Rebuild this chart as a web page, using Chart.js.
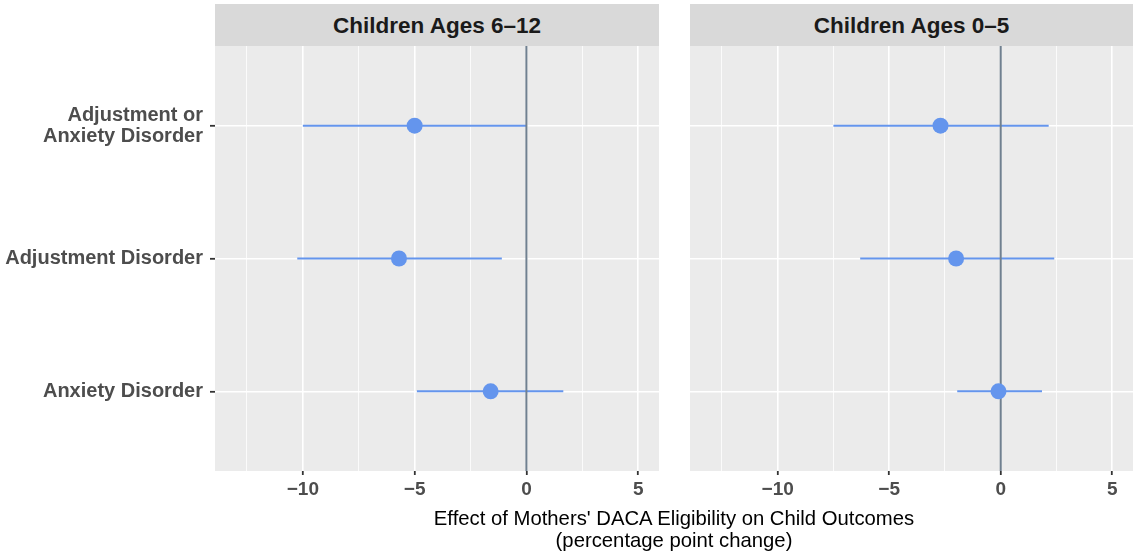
<!DOCTYPE html>
<html lang="en">
<head>
    <meta charset="UTF-8">
    <title>DACA eligibility and child outcomes</title>
    <script src="https://cdn.jsdelivr.net/npm/chart.js"></script>
    <style>
        body {
            margin: 0;
            background: #ffffff;
            font-family: "Liberation Sans", Arial, sans-serif;
        }
        .wrap {
            position: relative;
            width: 1133px;
            height: 551px;
        }
        canvas {
            position: absolute;
            top: 0;
        }
        .strip {
            position: absolute;
            top: 4px;
            height: 42px;
            line-height: 44px;
            background: #d9d9d9;
            color: #1a1a1a;
            font-weight: bold;
            font-size: 22.5px;
            text-align: center;
        }
        .x-title {
            position: absolute;
            left: 324px;
            width: 700px;
            top: 507px;
            text-align: center;
            font-size: 20.3px;
            line-height: 22px;
            color: #000;
        }
    </style>
</head>
<body>
<div class="wrap">
    <canvas id="olderChart" width="659" height="551" style="left:0"></canvas>
    <canvas id="youngerChart" width="443" height="551" style="left:690px"></canvas>
    <div class="strip" id="stripOlder" style="left:215px; width:444px;"></div>
    <div class="strip" id="stripYounger" style="left:690px; width:443px;"></div>
    <div class="x-title">Effect of Mothers' DACA Eligibility on Child Outcomes<br>(percentage point change)</div>
</div>
<script>
    // outcomes, top to bottom
    const outcomes = [['Adjustment or', 'Anxiety Disorder'], 'Adjustment Disorder', 'Anxiety Disorder'];
    const panelTitles = ['Children Ages 6–12', 'Children Ages 0–5'];

    // children 6-12
    const olderEst = [-5.0, -5.7, -1.6];
    const olderLow = [-10.0, -10.25, -4.9];
    const olderHigh = [0.0, -1.1, 1.65];

    // children 0-5
    const youngerEst = [-2.7, -2.0, -0.1];
    const youngerLow = [-7.5, -6.3, -1.95];
    const youngerHigh = [2.15, 2.4, 1.85];

    const xMajor = [-10, -5, 0, 5];
    const xMinor = [-12.5, -7.5, -2.5, 2.5];

    document.getElementById('stripOlder').textContent = panelTitles[0];
    document.getElementById('stripYounger').textContent = panelTitles[1];

    const blue = '#6495ed';
    const isMinor = v => xMinor.includes(v);

    const panelBg = {
        id: 'panelBg',
        beforeDraw(chart) {
            const a = chart.chartArea;
            const ctx = chart.ctx;
            ctx.save();
            ctx.fillStyle = '#ebebeb';
            ctx.fillRect(a.left, a.top, a.right - a.left, a.bottom - a.top);
            ctx.restore();
        }
    };

    const makePanel = (id, est, low, high, showLabels) => {
        const rows = outcomes.map((_, i) => i + 1);
        const datasets = [];

        // estimates
        datasets.push({
            data: est.map((v, i) => ({ x: v, y: rows[i] })),
            showLine: false,
            pointRadius: 8,
            pointBackgroundColor: blue,
            pointBorderWidth: 0,
            order: 0
        });
        // zero reference line
        datasets.push({
            data: [{ x: 0, y: 0.4 }, { x: 0, y: 3.6 }],
            showLine: true,
            borderColor: '#708090',
            borderWidth: 2,
            pointRadius: 0,
            order: 1
        });
        // confidence intervals
        rows.forEach((r, i) => {
            datasets.push({
                data: [{ x: low[i], y: r }, { x: high[i], y: r }],
                showLine: true,
                borderColor: blue,
                borderWidth: 2,
                pointRadius: 0,
                order: 2
            });
        });

        new Chart(document.getElementById(id), {
            type: 'scatter',
            data: { datasets },
            options: {
                responsive: false,
                animation: false,
                events: [],
                layout: { autoPadding: false, padding: { top: 46, left: 0, right: 0, bottom: 0 } },
                plugins: { legend: { display: false }, tooltip: { enabled: false } },
                scales: {
                    x: {
                        type: 'linear',
                        min: -13.93,
                        max: 5.93,
                        afterBuildTicks: s => {
                            s.ticks = [...xMinor, ...xMajor].sort((a, b) => a - b).map(v => ({ value: v }));
                        },
                        afterFit: s => {
                            s.height = 80;
                            s.paddingLeft = 0;
                            s.paddingRight = 0;
                        },
                        border: { display: false },
                        grid: {
                            color: '#ffffff',
                            lineWidth: c => (c.tick && isMinor(c.tick.value)) ? 0.8 : 1.6,
                            drawTicks: true,
                            tickLength: 4,
                            tickWidth: 1.8,
                            tickColor: c => (c.tick && isMinor(c.tick.value)) ? 'rgba(0,0,0,0)' : '#333333'
                        },
                        ticks: {
                            autoSkip: false,
                            maxRotation: 0,
                            padding: 3,
                            color: '#4d4d4d',
                            font: { family: '"Liberation Sans", Arial, sans-serif', size: 19, weight: 'bold' },
                            callback: v => isMinor(v) ? '' : (v < 0 ? '\u2212' + Math.abs(v) : String(v))
                        }
                    },
                    y: {
                        type: 'linear',
                        min: 0.4,
                        max: 3.6,
                        reverse: true,
                        afterBuildTicks: s => {
                            s.ticks = rows.map(v => ({ value: v }));
                        },
                        afterFit: s => {
                            s.width = showLabels ? 215 : 0;
                            s.paddingTop = 0;
                            s.paddingBottom = 0;
                        },
                        border: { display: false },
                        grid: {
                            color: '#ffffff',
                            lineWidth: 1.6,
                            drawTicks: showLabels,
                            tickLength: 5,
                            tickWidth: 1.8,
                            tickColor: '#333333'
                        },
                        ticks: {
                            display: showLabels,
                            autoSkip: false,
                            padding: 7,
                            color: '#4d4d4d',
                            font: { family: '"Liberation Sans", Arial, sans-serif', size: 20, weight: 'bold', lineHeight: 1.05 },
                            callback: v => outcomes[v - 1]
                        }
                    }
                }
            },
            plugins: [panelBg]
        });
    };

    makePanel('olderChart', olderEst, olderLow, olderHigh, true);
    makePanel('youngerChart', youngerEst, youngerLow, youngerHigh, false);
</script>
</body>
</html>
